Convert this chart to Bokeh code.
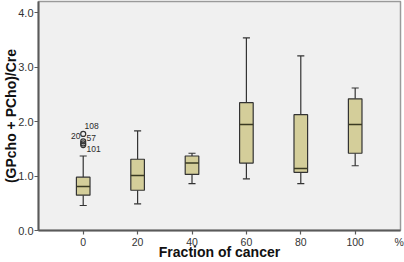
from bokeh.plotting import figure
from bokeh.models import Range1d, FixedTicker, Label, ColumnDataSource, LinearAxis
from bokeh.embed import file_html
from bokeh.resources import INLINE

categories = ["0", "20", "40", "60", "80", "100"]
lower_whisker = [0.46, 0.49, 0.86, 0.95, 0.86, 1.19]
q1 = [0.65, 0.74, 1.03, 1.24, 1.07, 1.42]
median = [0.81, 1.01, 1.24, 1.95, 1.14, 1.95]
q3 = [0.98, 1.31, 1.37, 2.35, 2.13, 2.42]
upper_whisker = [1.37, 1.83, 1.42, 3.54, 3.21, 2.62]

outlier_group = [0, 0, 0, 0]
outlier_value = [1.775, 1.64, 1.60, 1.57]
outlier_id = ["108", "20", "57", "101"]

y_ticks = [0.0, 1.0, 2.0, 3.0, 4.0]
x_title = "Fraction of cancer"
y_title = "(GPcho + PCho)/Cre"
x_unit = "%"

FONT = "Liberation Sans"
LINE = "#333333"
FILL = "#d4ce9a"

xs = list(range(len(categories)))

p = figure(width=404, height=262, output_backend="svg", toolbar_location=None,
           x_range=Range1d(-0.822, 5.833), y_range=Range1d(0, 4.21),
           min_border_left=38, min_border_right=4, min_border_top=1, min_border_bottom=32)
p.background_fill_color = "#f0f0f0"
p.border_fill_color = "white"
p.outline_line_color = "#9a9a9a"
p.outline_line_width = 1.5
p.grid.visible = False

src = ColumnDataSource(dict(x=xs, lw=lower_whisker, q1=q1, med=median, q3=q3, uw=upper_whisker))
# whiskers
p.segment(x0="x", y0="q3", x1="x", y1="uw", source=src, line_color=LINE, line_width=1.2)
p.segment(x0="x", y0="lw", x1="x", y1="q1", source=src, line_color=LINE, line_width=1.2)
cap = 0.065
p.segment(x0=[x - cap for x in xs], y0=upper_whisker, x1=[x + cap for x in xs], y1=upper_whisker,
          line_color=LINE, line_width=1.2)
p.segment(x0=[x - cap for x in xs], y0=lower_whisker, x1=[x + cap for x in xs], y1=lower_whisker,
          line_color=LINE, line_width=1.2)
# boxes
p.vbar(x="x", width=0.25, bottom="q1", top="q3", source=src, fill_color=FILL,
       line_color=LINE, line_width=1.2)
bw = 0.125
p.segment(x0=[x - bw for x in xs], y0=median, x1=[x + bw for x in xs], y1=median,
          line_color="#3a3a22", line_width=1.5)

# outliers
p.scatter(x=outlier_group, y=outlier_value, size=5, marker="circle", fill_alpha=0,
          line_color=LINE, line_width=1.2)
# label placement (pixel offsets, style only)
label_dx = [1.3, -2.7, 3.3, 3.3]
label_dy = [-7.6, -5.5, -5.5, 3.8]
label_align = ["left", "right", "left", "left"]
for g, v, t, dx, dy, al in zip(outlier_group, outlier_value, outlier_id, label_dx, label_dy, label_align):
    p.add_layout(Label(x=g, y=v, x_offset=dx, y_offset=-dy, text=t, text_align=al,
                       text_baseline="middle", text_font=FONT, text_font_size="8.5px",
                       text_color="#2a2a2a"))

# axes
p.xaxis.ticker = FixedTicker(ticks=xs)
p.xaxis.major_label_overrides = {i: c for i, c in enumerate(categories)}
p.yaxis.ticker = FixedTicker(ticks=y_ticks)
p.yaxis.major_label_overrides = {v: f"{v:.1f}" for v in y_ticks}
for ax in (p.xaxis, p.yaxis):
    ax.axis_line_color = "#5a5a5a"
    ax.axis_line_width = 2
    ax.major_tick_line_color = "#5a5a5a"
    ax.major_tick_line_width = 1.2
    ax.major_tick_out = 4
    ax.major_tick_in = 0
    ax.minor_tick_line_color = None
    ax.major_label_text_font = FONT
    ax.major_label_text_color = "#333333"
p.xaxis.major_label_text_font_size = "10.5px"
p.yaxis.major_label_text_font_size = "11px"
p.xaxis.major_label_standoff = 3
p.yaxis.major_label_standoff = 1

p.yaxis.axis_label = y_title
p.yaxis.axis_label_standoff = -4
p.yaxis.axis_label_text_font = FONT
p.yaxis.axis_label_text_font_style = "bold"
p.yaxis.axis_label_text_font_size = "14px"
p.yaxis.axis_label_text_color = "#111111"

# second bottom axis: unit sign at the right end and the x title
unit_pos = p.x_range.end - 0.025
ax2 = LinearAxis(ticker=FixedTicker(ticks=[unit_pos]),
                 major_label_overrides={unit_pos: x_unit},
                 axis_line_color=None, major_tick_line_color=None,
                 major_tick_out=0, major_tick_in=0, minor_tick_line_color=None,
                 major_label_standoff=-13, major_label_text_font=FONT,
                 major_label_text_font_size="10.5px", major_label_text_color="#333333",
                 axis_label=x_title, axis_label_standoff=-7, axis_label_text_font=FONT,
                 axis_label_text_font_style="bold", axis_label_text_font_size="14px",
                 axis_label_text_color="#111111")
p.add_layout(ax2, "below")

open("out.html", "w").write(file_html(p, INLINE))
